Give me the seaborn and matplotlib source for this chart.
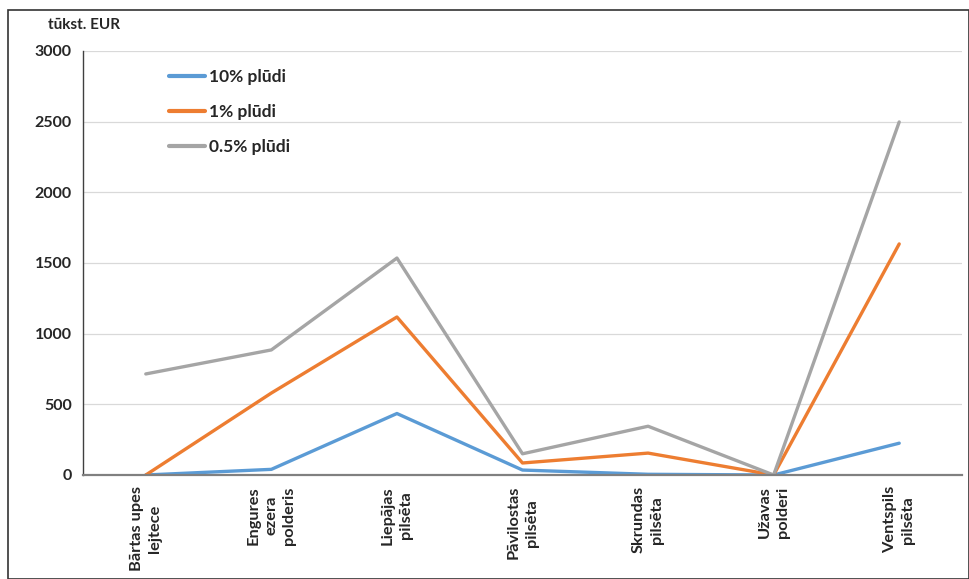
import numpy as np
import pandas as pd
import matplotlib
matplotlib.use("Agg")
import matplotlib.pyplot as plt
from matplotlib.patches import Rectangle
import seaborn as sns

# --- DATI ---
categories = ["Bārtas upes\nlejtece", "Engures\nezera\npolderis", "Liepājas\npilsēta",
              "Pāvilostas\npilsēta", "Skrundas\npilsēta", "Užavas\npolderi", "Ventspils\npilsēta"]
floods_10 = [0, 40, 435, 35, 5, 0, 225]
floods_1 = [0, 580, 1118, 85, 155, 0, 1635]
floods_05 = [715, 885, 1535, 150, 345, 0, 2498]
series_names = ["10% plūdi", "1% plūdi", "0.5% plūdi"]
colors = ["#5B9BD5", "#ED7D31", "#A5A5A5"]
yticks = [0, 500, 1000, 1500, 2000, 2500, 3000]

df = pd.DataFrame({
    "pos": list(range(len(categories))) * 3,
    "value": floods_10 + floods_1 + floods_05,
    "serie": [s for s in series_names for _ in categories],
})

# --- STILE ---
sns.set_style("white")
plt.rcParams["font.family"] = ["Lato", "DejaVu Sans"]
plt.rcParams["font.weight"] = "bold"

fig = plt.figure(figsize=(9.69, 5.79), dpi=100)
ax = fig.add_axes([83 / 969, 1 - 475 / 579, (962 - 83) / 969, (475 - 51) / 579])

sns.lineplot(data=df, x="pos", y="value", hue="serie", hue_order=series_names,
             palette=colors, linewidth=2.4, ax=ax, legend=True)

ax.set_xlim(-0.5, len(categories) - 0.5)
ax.set_ylim(0, 3000)
ax.set_yticks(yticks)
ax.set_yticklabels([str(v) for v in yticks], fontsize=11.5, fontweight="bold")
ax.set_xticks(range(len(categories)))
ax.set_xticklabels(categories, rotation=90, fontsize=11.8, fontweight="bold",
                   va="top", ha="center", multialignment="center", linespacing=1.35)
ax.tick_params(axis="both", length=0, pad=8)
ax.set_xlabel("")
ax.set_ylabel("")
ax.grid(axis="y", color="#d9d9d9", linewidth=0.9)
ax.set_axisbelow(True)
for side in ["top", "right"]:
    ax.spines[side].set_visible(False)
ax.spines["left"].set_color("#404040")
ax.spines["left"].set_linewidth(1.0)
ax.spines["bottom"].set_color("#808080")
ax.spines["bottom"].set_linewidth(1.6)

leg = ax.legend(loc="upper left", bbox_to_anchor=(0.08, 0.995), frameon=False,
                handlelength=2.1, handletextpad=0.2, labelspacing=1.1,
                prop={"size": 12.5, "weight": "bold"})
for line in leg.get_lines():
    line.set_linewidth(3)

fig.text(48 / 969, 1 - 25 / 579, "tūkst. EUR", fontsize=11, fontweight="bold",
         va="center", ha="left")

# cornice esterna
fig.patches.append(Rectangle((8 / 969, 0), 1 - 8 / 969, 1 - 10 / 579,
                             transform=fig.transFigure, fill=False,
                             edgecolor="#333333", linewidth=1.2))

fig.savefig("out.png", dpi=100)
